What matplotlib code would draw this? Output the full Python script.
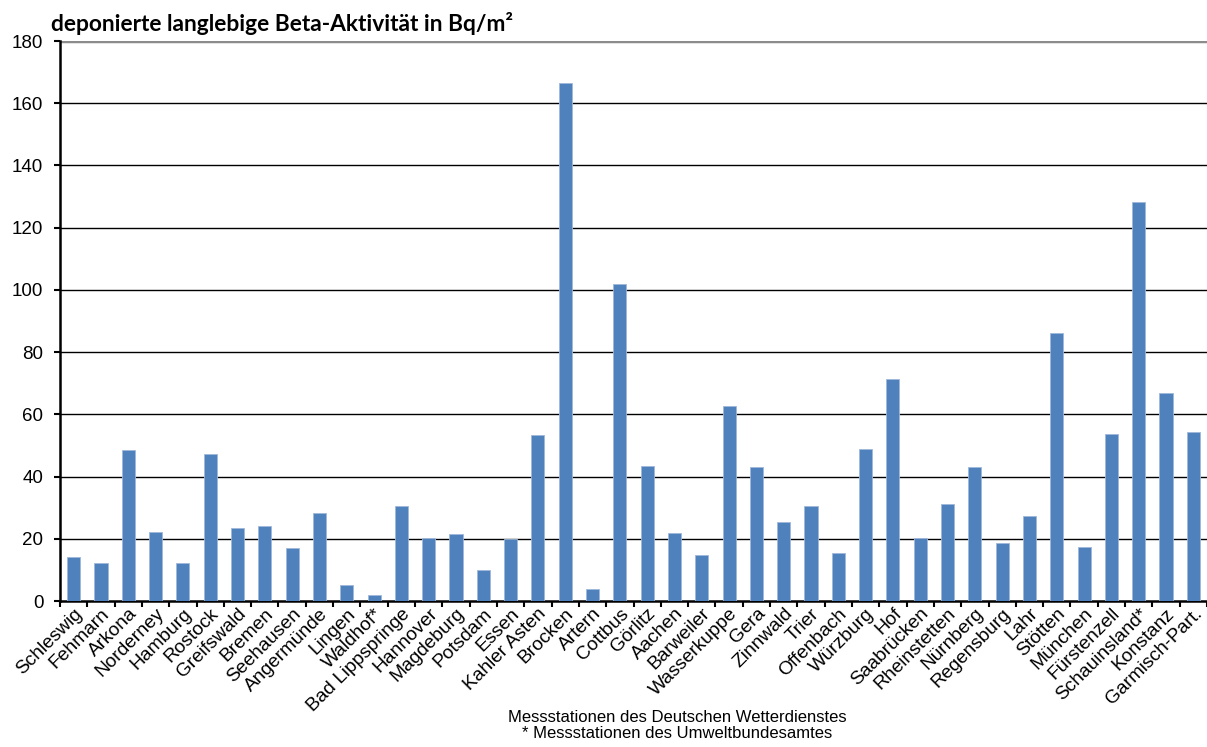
import matplotlib

matplotlib.use("Agg")
import matplotlib.pyplot as plt
import numpy as np

plt.rcParams["font.family"] = ["Liberation Sans", "DejaVu Sans"]

# Messstationen und deponierte Beta-Aktivität (Bq/m²)
stations = [
    "Schleswig", "Fehmarn", "Arkona", "Norderney", "Hamburg", "Rostock",
    "Greifswald", "Bremen", "Seehausen", "Angermünde", "Lingen", "Waldhof*",
    "Bad Lippspringe", "Hannover", "Magdeburg", "Potsdam", "Essen",
    "Kahler Asten", "Brocken", "Artern", "Cottbus", "Görlitz", "Aachen",
    "Barweiler", "Wasserkuppe", "Gera", "Zinnwald", "Trier", "Offenbach",
    "Würzburg", "Hof", "Saabrücken", "Rheinstetten", "Nürnberg", "Regensburg",
    "Lahr", "Stötten", "München", "Fürstenzell", "Schauinsland*", "Konstanz",
    "Garmisch-Part.",
]
values = [
    14.2, 12.2, 48.5, 22.1, 12.3, 47.1,
    23.6, 24.1, 17.0, 28.2, 5.2, 1.8,
    30.5, 20.2, 21.6, 10.0, 20.0,
    53.2, 166.5, 3.9, 101.8, 43.4, 22.0,
    14.8, 62.7, 43.0, 25.4, 30.5, 15.5,
    49.0, 71.4, 20.2, 31.2, 43.2, 18.8,
    27.3, 86.2, 17.2, 53.6, 128.3, 66.9,
    54.2,
]
yticks = list(range(0, 181, 20))

fig = plt.figure(figsize=(12.07, 7.47), dpi=100)
ax = fig.add_axes([60 / 1207, 146 / 747, 1147 / 1207, 560 / 747])

x = np.arange(len(stations))
ax.bar(x, values, width=0.48, color="#4F81BD", edgecolor="#9FB8DA",
       linewidth=0.6, zorder=3)

ax.set_xlim(-0.5, len(stations) - 0.5)
ax.set_ylim(0, 180)
ax.set_yticks(yticks)
for t in yticks[1:-1]:
    ax.axhline(t, color="black", linewidth=1.0, zorder=1)
ax.axhline(180, color="#8C8C8C", linewidth=2.5, zorder=1)

ax.set_xticks(x)
ax.set_xticklabels(stations, rotation=45, ha="right", va="top",
                   rotation_mode="anchor", fontsize=13.8)
ax.set_xticks(np.arange(len(stations) + 1) - 0.5, minor=True)
ax.tick_params(axis="x", which="major", length=0, pad=3)
ax.tick_params(axis="x", which="minor", length=4.5, width=1.5, direction="out")
ax.tick_params(axis="y", length=4, width=1.5, direction="out", labelsize=13.5,
               pad=8)

for s in ("top", "right"):
    ax.spines[s].set_visible(False)
ax.spines["left"].set_linewidth(1.8)
ax.spines["bottom"].set_linewidth(1.8)

fig.text(51 / 1207, 1 - 31 / 747, "deponierte langlebige Beta-Aktivität in Bq/m²",
         fontsize=16.4, fontweight="bold", family=["Lato", "DejaVu Sans"],
         ha="left", va="baseline")
fig.text(677 / 1207, 1 - 717 / 747, "Messstationen des Deutschen Wetterdienstes",
         fontsize=12.0, ha="center", va="center")
fig.text(677 / 1207, 1 - 734 / 747, "* Messstationen des Umweltbundesamtes",
         fontsize=12.0, ha="center", va="center")

fig.savefig("out.png", dpi=100)
